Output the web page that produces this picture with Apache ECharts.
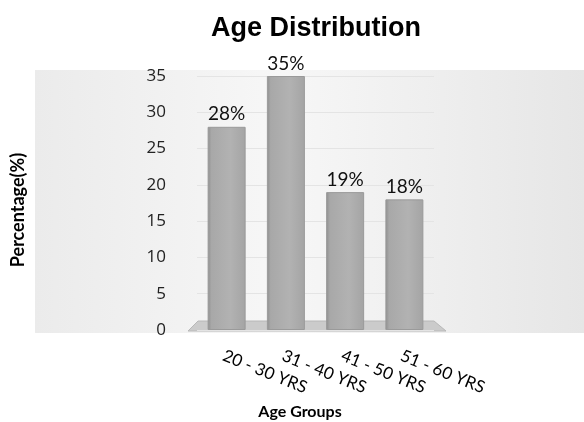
<!DOCTYPE html>
<html>
<head>
<meta charset="utf-8">
<script src="https://cdn.jsdelivr.net/npm/echarts@6/dist/echarts.min.js"></script>
<style>
  html, body { margin: 0; padding: 0; background: #fff; }
  #chart { width: 584px; height: 422px; }
</style>
</head>
<body>
<div id="chart"></div>
<script>
// 数据
var ageGroups = ['20 - 30 YRS', '31 - 40 YRS', '41 - 50 YRS', '51 - 60 YRS'];
var percentages = [28, 35, 19, 18];
var yTicks = [0, 5, 10, 15, 20, 25, 30, 35];

var myChart = echarts.init(document.getElementById('chart'));

var option = {
    backgroundColor: '#ffffff',
    title: {
        text: 'Age Distribution',
        left: 311,
        textAlign: 'center',
        top: 10,
        textStyle: {
            fontFamily: 'Liberation Sans',
            fontWeight: 'bold',
            fontSize: 27,
            color: '#000'
        }
    },
    // 背景和底座
    graphic: [
        {
            type: 'rect',
            z: -10,
            shape: { x: 35, y: 70, width: 549, height: 263 },
            style: {
                fill: new echarts.graphic.LinearGradient(0, 0, 1, 0, [
                    { offset: 0, color: '#ebebeb' },
                    { offset: 0.45, color: '#f7f7f7' },
                    { offset: 1, color: '#e6e6e6' }
                ])
            }
        },
        {
            type: 'polygon',
            z: -5,
            shape: { points: [[188, 331], [446, 331], [434, 321], [198, 321]] },
            style: { fill: '#cbcbcb', stroke: '#b8b8b8', lineWidth: 1 }
        }
    ],
    grid: {
        left: 197,
        right: 150,
        top: 76,
        bottom: 92,
        outerBoundsMode: 'none'
    },
    xAxis: {
        type: 'category',
        data: ageGroups,
        name: 'Age Groups',
        nameLocation: 'middle',
        nameGap: 74,
        nameTextStyle: {
            fontFamily: 'Lato',
            fontWeight: 'bold',
            fontSize: 16,
            color: '#000',
            padding: [0, 31, 0, 0]
        },
        axisLine: { show: false },
        axisTick: { show: false },
        axisLabel: {
            interval: 0,
            rotate: -22,
            margin: 17,
            verticalAlign: 'top',
            fontFamily: 'Lato',
            fontSize: 17,
            color: '#000'
        }
    },
    yAxis: {
        type: 'value',
        min: 0,
        max: 35,
        interval: 5,
        name: 'Percentage(%)',
        nameLocation: 'middle',
        nameGap: 170,
        nameTextStyle: {
            fontFamily: 'Lato',
            fontWeight: 'bold',
            fontSize: 18,
            color: '#000',
            padding: [0, 14, 0, 0]
        },
        axisLine: { show: false },
        axisTick: { show: false },
        axisLabel: {
            margin: 31,
            fontFamily: 'Open Sans',
            fontSize: 17,
            color: '#222',
            formatter: function (v) { return yTicks.indexOf(v) >= 0 ? String(v) : ''; }
        },
        splitLine: { lineStyle: { color: '#e4e4e4' } }
    },
    series: [
        {
            type: 'bar',
            data: percentages,
            barWidth: 38,
            itemStyle: {
                color: new echarts.graphic.LinearGradient(0, 0, 1, 0, [
                    { offset: 0, color: '#8e8e8e' },
                    { offset: 0.1, color: '#a8a8a8' },
                    { offset: 0.6, color: '#b2b2b2' },
                    { offset: 1, color: '#a4a4a4' }
                ]),
                borderColor: '#9a9a9a',
                borderWidth: 1
            },
            label: {
                show: true,
                position: 'top',
                distance: 3,
                formatter: '{c}%',
                fontFamily: 'Lato',
                fontSize: 19,
                color: '#111'
            }
        }
    ]
};

myChart.setOption(option);
</script>
</body>
</html>
